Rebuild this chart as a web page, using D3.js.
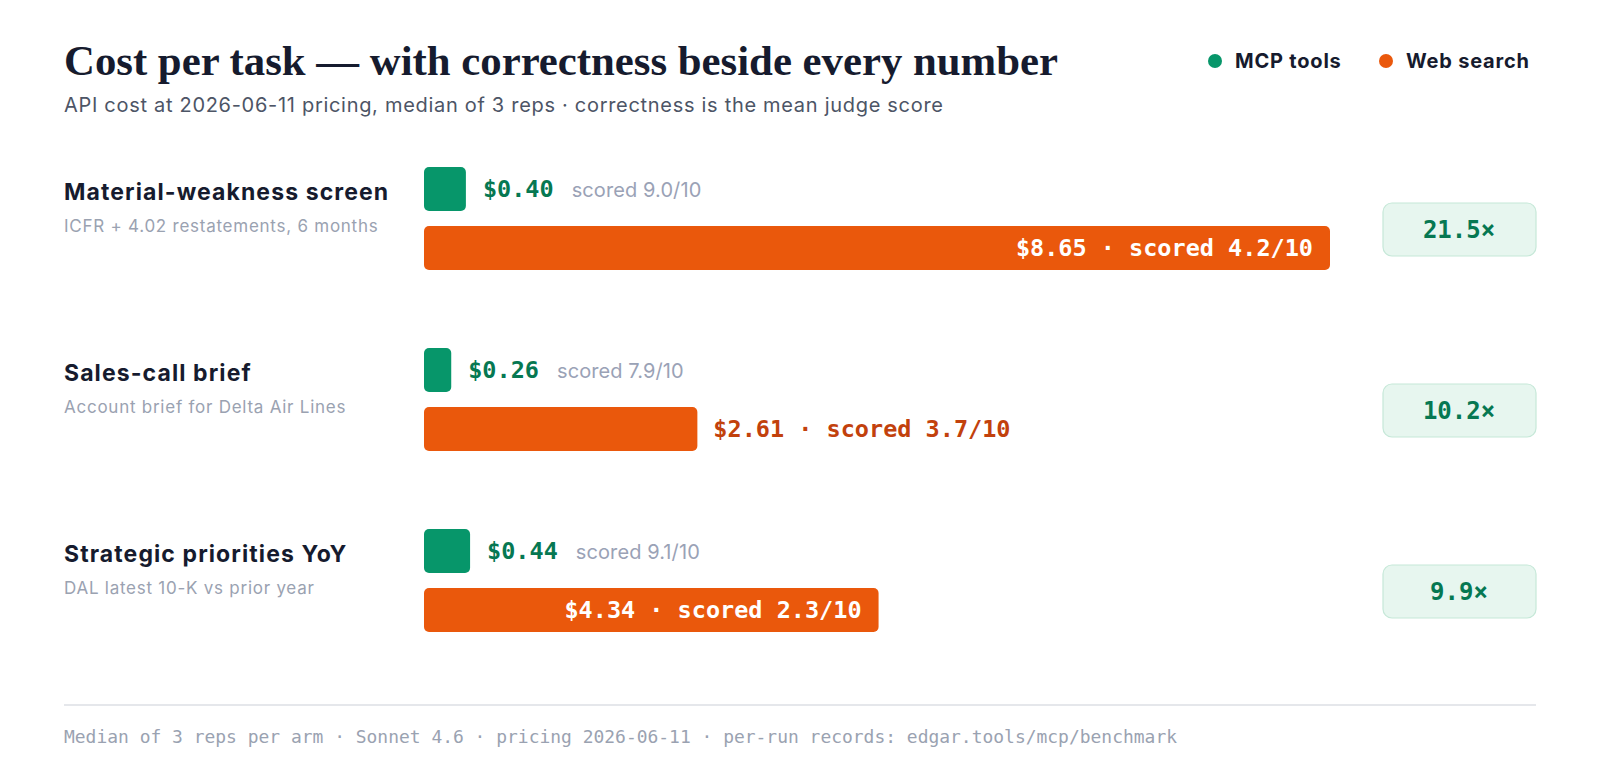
<!DOCTYPE html>
<html lang="en">
<head>
    <meta charset="utf-8">
    <title>Cost per task</title>
    <style>
        body { margin: 0; background: #ffffff; }
        svg { display: block; }
        .serif { font-family: 'Liberation Serif', 'DejaVu Serif', serif; }
        .sans { font-family: Inter, 'Noto Sans', sans-serif; }
        .mono { font-family: 'DejaVu Sans Mono', 'Liberation Mono', monospace; }
    </style>
    <script src="https://d3js.org/d3.v7.min.js" charset="utf-8"></script>
</head>
<body>
    <svg id="chart" width="1600" height="770"></svg>

    <script type="text/javascript">
    // data
    var tasks = ["Material-weakness screen", "Sales-call brief", "Strategic priorities YoY"];
    var taskNotes = ["ICFR + 4.02 restatements, 6 months", "Account brief for Delta Air Lines", "DAL latest 10-K vs prior year"];
    var mcpCost = [0.40, 0.26, 0.44];
    var mcpScore = [9.0, 7.9, 9.1];
    var webCost = [8.65, 2.61, 4.34];
    var webScore = [4.2, 3.7, 2.3];
    var ratios = [21.5, 10.2, 9.9];
    var seriesNames = ["MCP tools", "Web search"];
    var seriesColors = ["#07966a", "#ea580c"];

    var svg = d3.select("#chart");

    var x = d3.scaleLinear().domain([0, d3.max(webCost)]).range([424, 1330]);
    var y = d3.scaleBand().domain(tasks).range([167, 167 + 181 * tasks.length]);
    var barH = 44;
    var gap = 15;

    // header
    svg.append("text")
      .attr("class", "serif")
      .attr("x", 64).attr("y", 75)
      .attr("font-size", 42).attr("font-weight", 700)
      .attr("fill", "#161b2e")
      .attr("textLength", 994).attr("lengthAdjust", "spacingAndGlyphs")
      .text("Cost per task \u2014 with correctness beside every number");

    svg.append("text")
      .attr("class", "sans")
      .attr("x", 64).attr("y", 112)
      .attr("font-size", 20).attr("letter-spacing", 0.7)
      .attr("fill", "#4d5566")
      .text("API cost at 2026-06-11 pricing, median of 3 reps \u00b7 correctness is the mean judge score");

    // legend
    var legX = [1215, 1386];
    var leg = svg.selectAll(".leg").data(seriesNames).enter().append("g")
      .attr("class", "leg")
      .attr("transform", (d, i) => "translate(" + legX[i] + ",61)");
    leg.append("circle").attr("r", 7).attr("fill", (d, i) => seriesColors[i]);
    leg.append("text")
      .attr("class", "sans")
      .attr("x", 20).attr("y", 7)
      .attr("font-size", 20).attr("font-weight", 700).attr("letter-spacing", 0.8)
      .attr("fill", "#161b2e")
      .text(d => d);

    // rows
    var rows = svg.selectAll(".row").data(tasks).enter().append("g")
      .attr("class", "row")
      .attr("transform", d => "translate(0," + y(d) + ")");

    rows.append("text")
      .attr("class", "sans")
      .attr("x", 64).attr("y", 33)
      .attr("font-size", 23).attr("font-weight", 700).attr("letter-spacing", 1.1)
      .attr("fill", "#161b2e")
      .text(d => d);

    rows.append("text")
      .attr("class", "sans")
      .attr("x", 64).attr("y", 65)
      .attr("font-size", 17).attr("letter-spacing", 0.75)
      .attr("fill", "#9aa2b1")
      .text((d, i) => taskNotes[i]);

    // MCP bars
    rows.append("rect")
      .attr("x", x(0)).attr("y", 0)
      .attr("width", (d, i) => x(mcpCost[i]) - x(0))
      .attr("height", barH)
      .attr("rx", 5)
      .attr("fill", seriesColors[0]);

    var mcpLab = rows.append("text")
      .attr("x", (d, i) => x(mcpCost[i]) + 17)
      .attr("y", 30);
    mcpLab.append("tspan")
      .attr("class", "mono")
      .attr("font-size", 23.5).attr("font-weight", 700)
      .attr("fill", "#067852")
      .text((d, i) => "$" + mcpCost[i].toFixed(2));
    mcpLab.append("tspan")
      .attr("class", "sans")
      .attr("dx", 18)
      .attr("font-size", 20).attr("letter-spacing", 0.1)
      .attr("fill", "#9aa2b6")
      .text((d, i) => "scored " + mcpScore[i].toFixed(1) + "/10");

    // web search bars
    rows.append("rect")
      .attr("x", x(0)).attr("y", barH + gap)
      .attr("width", (d, i) => x(webCost[i]) - x(0))
      .attr("height", barH)
      .attr("rx", 5)
      .attr("fill", seriesColors[1]);

    rows.append("text")
      .attr("class", "mono")
      .attr("y", barH + gap + 30)
      .attr("font-size", 23.5).attr("font-weight", 700)
      .text((d, i) => "$" + webCost[i].toFixed(2) + " \u00b7 scored " + webScore[i].toFixed(1) + "/10")
      .each(function(d, i) {
        var t = d3.select(this);
        var w = this.getComputedTextLength();
        var barW = x(webCost[i]) - x(0);
        if (w + 34 < barW) {
          t.attr("x", x(webCost[i]) - 17).attr("text-anchor", "end").attr("fill", "#ffffff");
        } else {
          t.attr("x", x(webCost[i]) + 16).attr("text-anchor", "start").attr("fill", "#c2410c");
        }
      });

    // ratio boxes
    rows.append("rect")
      .attr("x", 1383).attr("y", 36)
      .attr("width", 153).attr("height", 53)
      .attr("rx", 9)
      .attr("fill", "#e7f6ef")
      .attr("stroke", "#c6e8d8").attr("stroke-width", 1.2);

    rows.append("text")
      .attr("class", "mono")
      .attr("x", 1459).attr("y", 71)
      .attr("text-anchor", "middle")
      .attr("font-size", 24).attr("font-weight", 700)
      .attr("fill", "#067852")
      .text((d, i) => ratios[i].toFixed(1) + "\u00d7");

    // footer
    svg.append("line")
      .attr("x1", 64).attr("x2", 1536)
      .attr("y1", 705).attr("y2", 705)
      .attr("stroke", "#e5e7eb").attr("stroke-width", 2);

    svg.append("text")
      .attr("class", "mono")
      .attr("x", 64).attr("y", 743)
      .attr("font-size", 17)
      .attr("fill", "#9aa2b1")
      .attr("textLength", 1113).attr("lengthAdjust", "spacingAndGlyphs")
      .text("Median of 3 reps per arm \u00b7 Sonnet 4.6 \u00b7 pricing 2026-06-11 \u00b7 per-run records: edgar.tools/mcp/benchmark");
    </script>
</body>
</html>
